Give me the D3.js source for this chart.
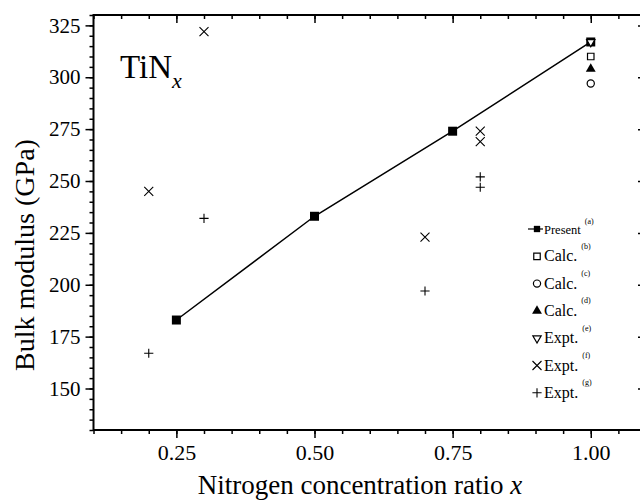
<!DOCTYPE html>
<html>
<head>
<meta charset="utf-8">
<script src="https://cdn.jsdelivr.net/npm/d3@7"></script>
<style>
  body { margin: 0; background: #fff; }
</style>
</head>
<body>
<div id="chart"></div>
<script>
// ---- data ----
const presentX = [0.25, 0.50, 0.75, 1.00];
const presentY = [183, 233, 274, 317];

const calcBX = [1.00];
const calcBY = [310];
const calcCX = [1.00];
const calcCY = [297];
const calcDX = [1.00];
const calcDY = [304];
const exptEX = [1.00];
const exptEY = [317];
const exptFX = [0.20, 0.30, 0.70, 0.80, 0.80];
const exptFY = [245, 322, 223, 274, 269];
const exptGX = [0.20, 0.30, 0.70, 0.80, 0.80];
const exptGY = [167, 232, 197, 252, 247];

const xTicks = [0.25, 0.50, 0.75, 1.00];
const yTicks = [150, 175, 200, 225, 250, 275, 300, 325];

const legendLabels = ["Present", "Calc.", "Calc.", "Calc.", "Expt.", "Expt.", "Expt."];
const legendRefs = ["(a)", "(b)", "(c)", "(d)", "(e)", "(f)", "(g)"];

// ---- layout ----
const W = 640, H = 503;
const pL = 93.5, pR = 646, pT = 15, pB = 430;
const FONT = "Liberation Serif, DejaVu Serif, serif";

const svg = d3.select("#chart").append("svg")
  .attr("width", W).attr("height", H)
  .attr("font-family", FONT);

const x = d3.scaleLinear().domain([0.1, 1.1]).range([pL, pR]);
const y = d3.scaleLinear().domain([130, 330]).range([pB, pT]);

const xMinor = d3.range(0.10, 1.1001, 0.05);
const yMinor = d3.range(130, 330.01, 5);

// Axes: minor ticks first, then major with labels
function styleAxis(g) {
  g.attr("font-family", FONT);
  g.selectAll("line").attr("stroke", "#000").attr("stroke-width", 1.5);
  g.selectAll("text").attr("fill", "#000");
  g.select(".domain").remove();
}

// bottom
svg.append("g").attr("transform", `translate(0,${pB})`)
  .call(d3.axisBottom(x).tickValues(xMinor).tickSize(4).tickFormat(""))
  .call(styleAxis);
svg.append("g").attr("transform", `translate(0,${pB})`)
  .call(d3.axisBottom(x).tickValues(xTicks).tickSize(8).tickPadding(6).tickFormat(d3.format(".2f")))
  .call(styleAxis)
  .attr("font-size", 22);

// top (inward)
svg.append("g").attr("transform", `translate(0,${pT})`)
  .call(d3.axisBottom(x).tickValues(xMinor).tickSize(4).tickFormat(""))
  .call(styleAxis);
svg.append("g").attr("transform", `translate(0,${pT})`)
  .call(d3.axisBottom(x).tickValues(xTicks).tickSize(8).tickFormat(""))
  .call(styleAxis);

// left
svg.append("g").attr("transform", `translate(${pL},0)`)
  .call(d3.axisLeft(y).tickValues(yMinor).tickSize(4).tickFormat(""))
  .call(styleAxis);
svg.append("g").attr("transform", `translate(${pL},0)`)
  .call(d3.axisLeft(y).tickValues(yTicks).tickSize(8).tickPadding(5))
  .call(styleAxis)
  .attr("font-size", 21);

// right (inward)
svg.append("g").attr("transform", `translate(${pR},0)`)
  .call(d3.axisLeft(y).tickValues(yMinor).tickSize(4).tickFormat(""))
  .call(styleAxis);
svg.append("g").attr("transform", `translate(${pR},0)`)
  .call(d3.axisLeft(y).tickValues(yTicks).tickSize(8).tickFormat(""))
  .call(styleAxis);

// frame
svg.append("rect")
  .attr("x", pL).attr("y", pT)
  .attr("width", pR - pL).attr("height", pB - pT)
  .attr("fill", "none").attr("stroke", "#000").attr("stroke-width", 2);

// axis titles
svg.append("text")
  .attr("x", 360).attr("y", 494)
  .attr("text-anchor", "middle").attr("font-size", 27)
  .text("Nitrogen concentration ratio ")
  .append("tspan").attr("font-style", "italic").text("x");

svg.append("text")
  .attr("transform", `translate(34,255) rotate(-90)`)
  .attr("text-anchor", "middle").attr("font-size", 28)
  .text("Bulk modulus (GPa)");

// TiNx label
const lab = svg.append("text").attr("x", 120).attr("y", 78).attr("font-size", 33);
lab.append("tspan").text("TiN");
lab.append("tspan").attr("font-style", "italic").attr("font-size", 22).attr("dy", 10).text("x");

// ---- markers ----
const sym = (type, size) => d3.symbol().type(type).size(size)();
const crossPath = h => `M${-h},${-h}L${h},${h}M${-h},${h}L${h},${-h}`;
const plusPath = h => `M${-h},0L${h},0M0,${-h}L0,${h}`;

const markers = {
  present: g => g.append("path").attr("d", sym(d3.symbolSquare, 81)).attr("fill", "#000"),
  b: g => g.append("path").attr("d", sym(d3.symbolSquare, 42)).attr("fill", "#fff").attr("stroke", "#000").attr("stroke-width", 1.2),
  c: g => g.append("circle").attr("r", 3.6).attr("fill", "#fff").attr("stroke", "#000").attr("stroke-width", 1.2),
  d: g => g.append("path").attr("d", sym(d3.symbolTriangle, 42)).attr("fill", "#000"),
  e: g => g.append("path").attr("d", sym(d3.symbolTriangle, 30)).attr("transform", "rotate(180)")
          .attr("fill", "#fff").attr("stroke", "#000").attr("stroke-width", 1.2),
  f: g => g.append("path").attr("d", crossPath(4.5)).attr("stroke", "#000").attr("stroke-width", 1.1),
  g: g => g.append("path").attr("d", plusPath(4.6)).attr("stroke", "#000").attr("stroke-width", 1.1)
};

function drawPoints(xs, ys, key) {
  xs.forEach((xv, i) => {
    const g = svg.append("g").attr("transform", `translate(${x(xv)},${y(ys[i])})`);
    markers[key](g);
  });
}

// present line
const line = d3.line().x(d => x(d[0])).y(d => y(d[1]));
svg.append("path")
  .datum(d3.zip(presentX, presentY))
  .attr("d", line)
  .attr("fill", "none").attr("stroke", "#000").attr("stroke-width", 1.5);

drawPoints(presentX, presentY, "present");
drawPoints(calcBX, calcBY, "b");
drawPoints(calcCX, calcCY, "c");
drawPoints(calcDX, calcDY, "d");
drawPoints(exptEX, exptEY, "e");
drawPoints(exptFX, exptFY, "f");
drawPoints(exptGX, exptGY, "g");

// ---- legend ----
const keys = ["present", "b", "c", "d", "e", "f", "g"];
const legX = 537, legY0 = 229, legStep = 27.3;
keys.forEach((k, i) => {
  const cy = legY0 + i * legStep;
  const g = svg.append("g").attr("transform", `translate(${legX},${cy})`);
  if (k === "present") {
    g.append("line").attr("x1", -9).attr("x2", 6).attr("stroke", "#000").attr("stroke-width", 1.2);
    g.append("path").attr("d", sym(d3.symbolSquare, 40)).attr("fill", "#000");
  } else {
    markers[k](g);
  }
  const t = svg.append("text")
    .attr("x", legX + 7).attr("y", cy + 5)
    .attr("font-size", k === "present" ? 12.5 : 16);
  t.append("tspan").text(legendLabels[i]);
  t.append("tspan").attr("font-size", 8).attr("dx", 4).attr("dy", k === "present" ? -10 : -12.5).text(legendRefs[i]);
});
</script>
</body>
</html>
